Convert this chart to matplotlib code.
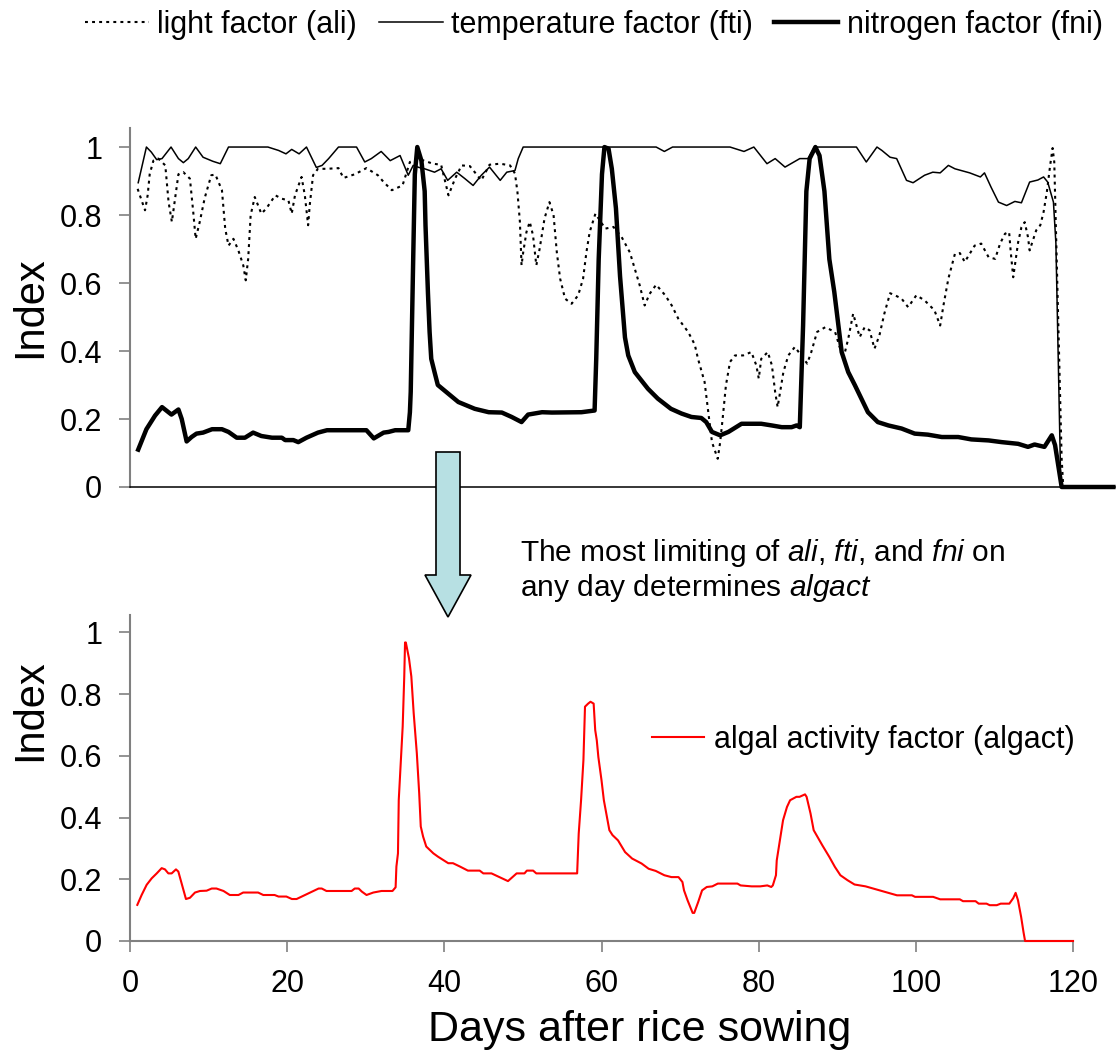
import numpy as np
import matplotlib.pyplot as plt
from matplotlib.patches import FancyArrow
from matplotlib.ticker import FuncFormatter

plt.rcParams['font.family'] = ['Liberation Sans', 'DejaVu Sans']
plt.rcParams['mathtext.fontset'] = 'custom'
plt.rcParams['mathtext.rm'] = 'Liberation Sans'
plt.rcParams['mathtext.it'] = 'Liberation Sans:italic'

# (day, value) pairs
ali_pts = [(0.93, 0.877), (1.83, 0.814), (2.15, 0.858), (2.4, 0.92), (2.85, 0.96), (3.45, 0.966),
           (4.3, 0.946), (4.7, 0.838), (5.1, 0.78), (5.5, 0.85), (5.9, 0.92), (6.5, 0.926),
           (7.3, 0.907), (7.7, 0.81), (8.0, 0.73), (8.5, 0.78), (9.1, 0.85), (9.9, 0.917),
           (10.4, 0.919), (11.2, 0.873), (11.6, 0.76), (12.0, 0.71), (12.6, 0.73), (13.2, 0.696),
           (13.8, 0.652), (14.1, 0.608), (14.4, 0.672), (14.7, 0.80), (15.2, 0.853), (16.0, 0.804),
           (16.6, 0.819), (17.7, 0.858), (18.5, 0.848), (19.3, 0.843), (19.7, 0.804), (20.1, 0.858),
           (20.9, 0.912), (21.3, 0.858), (21.7, 0.77), (21.9, 0.83), (22.3, 0.917), (22.9, 0.936),
           (24.0, 0.936), (25.4, 0.938), (26.0, 0.909), (27.4, 0.92), (28.8, 0.938), (30.2, 0.917),
           (30.9, 0.897), (31.9, 0.873), (33.2, 0.887), (34.1, 0.956), (35.2, 0.965), (36.9, 0.951),
           (37.9, 0.948), (38.8, 0.858), (39.6, 0.907), (40.4, 0.946), (41.4, 0.944), (42.8, 0.902),
           (43.8, 0.948), (45.1, 0.951), (46.3, 0.946), (46.9, 0.922), (47.2, 0.868), (47.5, 0.78),
           (47.7, 0.652), (47.9, 0.69), (48.3, 0.75), (48.7, 0.78), (49.1, 0.74), (49.5, 0.652),
           (49.9, 0.70), (50.5, 0.79), (51.1, 0.838), (51.6, 0.8), (52.0, 0.69), (52.4, 0.613),
           (53.0, 0.554), (53.8, 0.539), (54.6, 0.564), (55.2, 0.613), (55.6, 0.69), (56.0, 0.75),
           (56.7, 0.804), (57.9, 0.76), (58.9, 0.765), (59.9, 0.735), (60.9, 0.69), (61.5, 0.642),
           (62.1, 0.593), (62.7, 0.534), (63.3, 0.568), (64.1, 0.595), (65.2, 0.564), (66.0, 0.534),
           (66.8, 0.495), (68.0, 0.456), (68.8, 0.419), (69.2, 0.377), (70.0, 0.309), (70.4, 0.23),
           (70.9, 0.132), (71.6, 0.083), (71.9, 0.132), (72.2, 0.201), (72.6, 0.299), (73.1, 0.368),
           (73.7, 0.387), (74.7, 0.387), (75.7, 0.397), (76.3, 0.358), (76.6, 0.319), (76.9, 0.377),
           (77.7, 0.397), (78.2, 0.358), (78.6, 0.279), (78.9, 0.235), (79.2, 0.279), (79.6, 0.338),
           (80.2, 0.387), (81.0, 0.412), (82.5, 0.363), (83.0, 0.397), (83.7, 0.456), (84.7, 0.47),
           (85.9, 0.456), (86.4, 0.417), (86.9, 0.377), (87.5, 0.436), (88.1, 0.51), (88.5, 0.475),
           (88.9, 0.441), (89.5, 0.47), (90.1, 0.461), (90.7, 0.407), (91.3, 0.446), (91.9, 0.51),
           (92.6, 0.57), (93.2, 0.564), (94.0, 0.554), (94.8, 0.529), (95.8, 0.564), (96.8, 0.549),
           (98.0, 0.52), (98.7, 0.475), (99.1, 0.534), (99.7, 0.613), (100.5, 0.686), (101.1, 0.688),
           (101.7, 0.662), (102.3, 0.686), (102.9, 0.71), (103.7, 0.716), (104.6, 0.676), (105.4, 0.671),
           (106.0, 0.716), (106.6, 0.745), (107.1, 0.75), (107.3, 0.691), (107.6, 0.617), (107.8, 0.652),
           (108.2, 0.72), (108.6, 0.764), (109.0, 0.779), (109.4, 0.735), (109.6, 0.696), (110.0, 0.725),
           (110.4, 0.755), (110.9, 0.77), (111.3, 0.809), (111.7, 0.868), (112.1, 0.946), (112.4, 0.997),
           (112.6, 0.956), (112.9, 0.67), (113.2, 0.377), (113.5, 0.083), (113.7, 0.0), (119.8, 0.0)]

fti_pts = [(1.0, 0.895), (2.0, 1.0), (2.6, 0.985), (3.25, 0.963), (3.9, 0.966), (5.0, 1.0),
           (5.9, 0.966), (6.5, 0.954), (7.1, 0.966), (8.0, 1.0), (8.9, 0.97), (10.1, 0.958),
           (11.0, 0.951), (12.0, 1.0), (16.8, 1.0), (18.1, 0.99), (19.0, 0.98), (19.7, 0.993),
           (20.6, 0.98), (21.5, 1.0), (22.7, 0.94), (23.4, 0.946), (24.2, 0.966), (25.4, 1.0),
           (27.6, 1.0), (28.6, 0.956), (29.4, 0.966), (30.6, 0.987), (31.7, 0.96), (32.9, 0.975),
           (33.9, 0.917), (34.5, 0.946), (35.2, 0.94), (35.9, 0.936), (37.1, 0.926), (37.9, 0.936),
           (38.7, 0.902), (39.8, 0.926), (40.8, 0.907), (41.8, 0.887), (42.8, 0.917), (43.8, 0.941),
           (45.1, 0.902), (45.9, 0.926), (46.9, 0.931), (47.3, 0.966), (47.9, 1.0), (64.1, 1.0),
           (65.1, 0.987), (66.1, 1.0), (73.1, 1.0), (74.8, 0.987), (76.0, 1.0), (77.6, 0.951),
           (78.6, 0.966), (79.8, 0.941), (81.6, 0.966), (82.6, 0.966), (83.4, 1.0), (88.5, 1.0),
           (89.7, 0.956), (91.0, 1.0), (91.6, 0.99), (92.6, 0.97), (93.4, 0.966), (94.6, 0.902),
           (95.4, 0.895), (96.8, 0.917), (97.8, 0.926), (98.7, 0.924), (99.7, 0.946), (100.5, 0.936),
           (102.3, 0.924), (103.6, 0.912), (104.1, 0.924), (104.9, 0.882), (105.8, 0.838), (106.8, 0.828),
           (107.8, 0.84), (108.6, 0.836), (109.6, 0.897), (110.6, 0.903), (111.3, 0.912), (111.8, 0.897),
           (112.5, 0.838), (112.8, 0.717), (113.4, 0.0), (119.8, 0.0)]

fni_pts = [(1.0, 0.11), (2.0, 0.17), (3.05, 0.21), (3.9, 0.235), (5.05, 0.213), (5.9, 0.228),
           (6.3, 0.20), (6.9, 0.134), (7.5, 0.147), (8.1, 0.157), (8.9, 0.16), (10.0, 0.17),
           (11.2, 0.17), (12.0, 0.162), (13.0, 0.145), (14.0, 0.145), (15.0, 0.16), (16.0, 0.15),
           (17.3, 0.145), (18.5, 0.145), (18.9, 0.138), (19.9, 0.138), (20.5, 0.132), (21.5, 0.145),
           (22.9, 0.16), (24.0, 0.167), (28.8, 0.167), (29.7, 0.143), (30.9, 0.16), (31.5, 0.162),
           (32.3, 0.167), (33.9, 0.167), (34.1, 0.22), (34.2, 0.28), (34.5, 0.67), (34.7, 0.92),
           (35.0, 1.0), (35.5, 0.96), (35.9, 0.87), (36.0, 0.77), (36.3, 0.57), (36.5, 0.456),
           (36.7, 0.377), (37.1, 0.338), (37.5, 0.30), (40.0, 0.25), (42.0, 0.23), (43.7, 0.22),
           (45.3, 0.219), (46.5, 0.206), (47.7, 0.191), (48.5, 0.213), (50.2, 0.22), (51.4, 0.219),
           (55.0, 0.22), (56.6, 0.225), (56.8, 0.377), (57.1, 0.67), (57.5, 0.92), (57.8, 1.0),
           (58.3, 0.995), (58.7, 0.936), (59.2, 0.82), (59.7, 0.62), (60.3, 0.44), (60.7, 0.387),
           (61.5, 0.338), (63.1, 0.289), (64.3, 0.26), (65.9, 0.23), (67.2, 0.216), (68.4, 0.206),
           (69.6, 0.203), (70.2, 0.191), (70.9, 0.162), (71.9, 0.152), (72.9, 0.162), (74.5, 0.186),
           (76.9, 0.186), (78.2, 0.181), (79.4, 0.176), (80.6, 0.176), (81.2, 0.181), (81.6, 0.176),
           (82.0, 0.475), (82.4, 0.87), (82.8, 0.966), (83.5, 1.0), (84.0, 0.975), (84.6, 0.87),
           (85.2, 0.67), (85.8, 0.574), (86.7, 0.397), (87.5, 0.338), (88.3, 0.30), (89.9, 0.22),
           (91.1, 0.191), (92.4, 0.181), (94.0, 0.172), (95.6, 0.157), (97.2, 0.154), (98.9, 0.147),
           (100.9, 0.147), (102.5, 0.14), (104.6, 0.137), (106.2, 0.132), (108.2, 0.127), (109.4, 0.118),
           (110.2, 0.125), (111.4, 0.118), (112.3, 0.152), (112.7, 0.123), (113.5, 0.0), (119.8, 0.0)]

algact_pts = [(0.93, 0.117), (1.48, 0.149), (2.12, 0.182), (2.76, 0.203), (3.4, 0.219), (4.03, 0.236),
              (4.45, 0.232), (4.88, 0.219), (5.3, 0.219), (5.85, 0.232), (6.15, 0.225), (7.12, 0.136),
              (7.63, 0.14), (8.27, 0.157), (8.9, 0.162), (9.75, 0.163), (10.4, 0.17), (11.0, 0.17),
              (11.9, 0.162), (12.7, 0.149), (13.8, 0.149), (14.4, 0.157), (16.3, 0.157), (16.96, 0.149),
              (18.4, 0.149), (18.9, 0.144), (19.9, 0.144), (20.6, 0.136), (21.2, 0.136), (22.1, 0.147),
              (22.9, 0.157), (24.0, 0.17), (24.4, 0.17), (25.0, 0.162), (28.2, 0.162), (28.6, 0.17),
              (29.1, 0.17), (29.5, 0.16), (30.1, 0.149), (30.96, 0.157), (32.0, 0.162), (33.4, 0.162),
              (33.8, 0.174), (33.9, 0.241), (34.1, 0.284), (34.2, 0.457), (34.7, 0.695), (34.9, 0.857),
              (35.0, 0.967), (35.1, 0.967), (35.5, 0.916), (35.8, 0.857), (35.96, 0.792), (36.1, 0.738),
              (36.5, 0.608), (36.8, 0.479), (37.0, 0.371), (37.3, 0.338), (37.7, 0.306), (38.6, 0.284),
              (39.2, 0.273), (39.7, 0.265), (40.5, 0.252), (41.1, 0.252), (42.0, 0.241), (43.0, 0.228),
              (44.5, 0.228), (44.96, 0.219), (46.0, 0.219), (48.1, 0.194), (49.2, 0.219), (50.2, 0.219),
              (50.5, 0.228), (51.3, 0.228), (51.7, 0.219), (56.9, 0.219), (57.1, 0.348), (57.4, 0.456),
              (57.6, 0.542), (57.7, 0.586), (57.9, 0.759), (58.3, 0.769), (58.6, 0.775), (59.0, 0.769),
              (59.2, 0.683), (59.4, 0.65), (59.6, 0.596), (60.0, 0.521), (60.3, 0.456), (61.0, 0.359),
              (61.4, 0.343), (62.1, 0.326), (63.0, 0.288), (63.9, 0.267), (65.1, 0.251), (66.0, 0.234),
              (66.9, 0.227), (68.0, 0.213), (68.9, 0.207), (69.8, 0.207), (70.3, 0.191), (70.5, 0.164),
              (70.95, 0.132), (71.6, 0.091), (71.8, 0.091), (72.3, 0.126), (72.8, 0.164), (73.4, 0.175),
              (74.1, 0.177), (74.8, 0.186), (77.3, 0.186), (77.7, 0.18), (79.1, 0.177), (80.2, 0.177),
              (81.1, 0.18), (81.6, 0.175), (81.8, 0.18), (82.2, 0.213), (82.3, 0.261), (82.9, 0.359),
              (83.1, 0.391), (83.6, 0.434), (84.0, 0.456), (84.8, 0.467), (85.2, 0.467), (85.9, 0.475),
              (86.1, 0.467), (86.6, 0.413), (87.0, 0.359), (87.5, 0.337), (88.1, 0.31), (89.0, 0.272),
              (89.7, 0.24), (90.4, 0.213), (91.3, 0.197), (92.2, 0.183), (93.6, 0.177), (95.4, 0.164),
              (97.6, 0.148), (99.5, 0.148), (99.9, 0.143), (102.2, 0.143), (103.1, 0.135), (105.6, 0.135),
              (106.0, 0.129), (107.6, 0.129), (108.0, 0.121), (109.0, 0.121), (109.4, 0.116), (110.3, 0.116),
              (110.8, 0.121), (111.9, 0.121), (112.4, 0.139), (112.7, 0.156), (113.0, 0.132), (113.4, 0.078),
              (113.7, 0.029), (113.9, 0.0), (120.0, 0.0)]

y_ticks = [0, 0.2, 0.4, 0.6, 0.8, 1]
x_ticks = [0, 20, 40, 60, 80, 100, 120]

ali_day, ali = np.array(ali_pts).T
fti_day, fti = np.array(fti_pts).T
fni_day, fni = np.array(fni_pts).T
alg_day, algact = np.array(algact_pts).T

W, H = 1118, 1055
fig = plt.figure(figsize=(W / 100, H / 100), dpi=100)
ax1 = fig.add_axes([130 / W, 1 - 487 / H, 985 / W, 359 / H])
ax2 = fig.add_axes([130 / W, 1 - 941 / H, 943 / W, 326 / H])

grey = '#808080'
fmt = FuncFormatter(lambda v, p: '%g' % v)

# top panel: the three limiting factors
l1, = ax1.plot(ali_day, ali, color='black', lw=1.5, ls=(0, (1.4, 2.0)), label='light factor (ali)',
               clip_on=False, zorder=3)
l2, = ax1.plot(fti_day, fti, color='black', lw=1.1, label='temperature factor (fti)', clip_on=False)
l3, = ax1.plot(fni_day, fni, color='black', lw=3.2, label='nitrogen factor (fni)', clip_on=False)
ax1.set_xlim(0, 120)
ax1.set_ylim(0, 1.056)
ax1.set_yticks(y_ticks)
ax1.yaxis.set_major_formatter(fmt)
ax1.set_xticks([])
for s in ['top', 'right']:
    ax1.spines[s].set_visible(False)
ax1.spines['left'].set_color(grey)
ax1.spines['left'].set_linewidth(1.5)
ax1.spines['bottom'].set_color('black')
ax1.spines['bottom'].set_linewidth(1.1)
ax1.tick_params(axis='y', direction='out', length=8, width=1.2, color=grey, pad=12, labelsize=22)

# bottom panel: algal activity
l4, = ax2.plot(alg_day, algact, color='red', lw=1.5, label='algal activity factor (algact)',
               clip_on=False, zorder=3)
ax2.set_xlim(0, 120)
ax2.set_ylim(0, 1.056)
ax2.set_yticks(y_ticks)
ax2.set_xticks(x_ticks)
ax2.yaxis.set_major_formatter(fmt)
for s in ['top', 'right']:
    ax2.spines[s].set_visible(False)
for s in ['left', 'bottom']:
    ax2.spines[s].set_color(grey)
    ax2.spines[s].set_linewidth(1.5)
ax2.tick_params(axis='y', direction='out', length=8, width=1.2, color=grey, pad=12, labelsize=22)
ax2.tick_params(axis='x', direction='out', length=8, width=1.2, color=grey, pad=12, labelsize=22)

fig.text(30 / W, 1 - 307 / H, 'Index', rotation=90, ha='center', va='center', fontsize=30)
fig.text(30 / W, 1 - 710 / H, 'Index', rotation=90, ha='center', va='center', fontsize=30)
fig.text(640 / W, 1 - 1030 / H, 'Days after rice sowing', ha='center', va='center', fontsize=31)

fig.legend(handles=[l1, l2, l3], loc='center left', bbox_to_anchor=(85 / W, 1 - 25 / H),
           ncol=3, frameon=False, fontsize=22, handlelength=2.1, handletextpad=0.27,
           columnspacing=0.7, borderpad=0, borderaxespad=0)
fig.legend(handles=[l4], loc='center left', bbox_to_anchor=(652 / W, 1 - 740 / H),
           frameon=False, fontsize=22, handlelength=1.7, handletextpad=0.33,
           borderpad=0, borderaxespad=0)

fig.text(520 / W, 1 - 561 / H, r'The most limiting of $\mathit{ali}$, $\mathit{fti}$, and $\mathit{fni}$ on',
         ha='left', va='baseline', fontsize=21.5)
fig.text(520 / W, 1 - 596 / H, r'any day determines $\mathit{algact}$',
         ha='left', va='baseline', fontsize=21.5)

arrow = FancyArrow(448 / W, 1 - 452 / H, 0, -(617 - 452) / H, width=24 / W, head_width=46 / W,
                   head_length=42 / H, length_includes_head=True, transform=fig.transFigure,
                   facecolor='#b7e0e3', edgecolor='black', lw=1.2)
fig.patches.append(arrow)

fig.savefig('out.png', dpi=100)
